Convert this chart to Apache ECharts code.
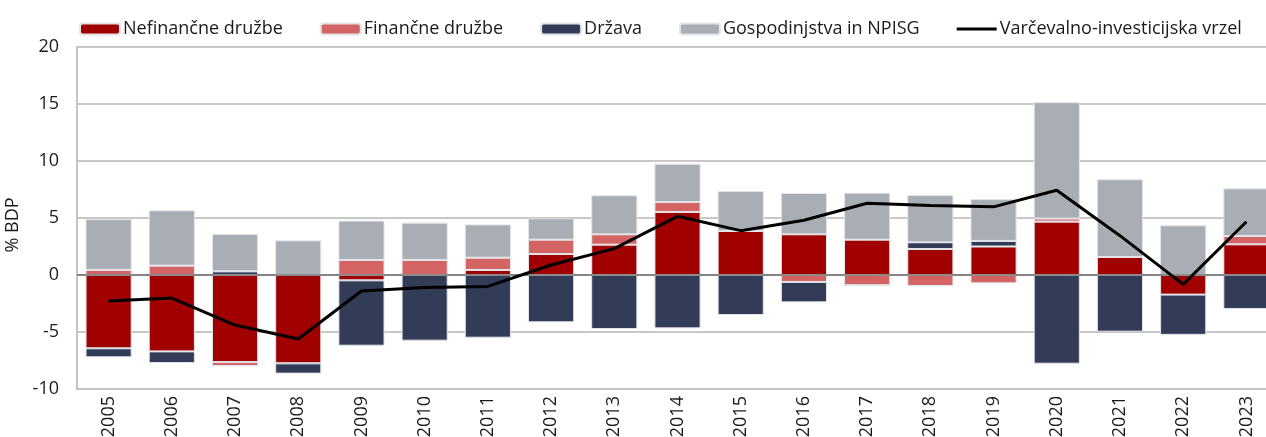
<!DOCTYPE html>
<html>
<head>
<meta charset="utf-8">
<script src="https://cdn.jsdelivr.net/npm/echarts@6/dist/echarts.min.js"></script>
<style>
  html, body { margin: 0; padding: 0; background: #fff; }
  #chart { width: 1266px; height: 437px; }
</style>
</head>
<body>
<div id="chart"></div>
<script>
var years = ['2005','2006','2007','2008','2009','2010','2011','2012','2013','2014',
             '2015','2016','2017','2018','2019','2020','2021','2022','2023'];

// % BDP
var nefinancne = [-6.43, -6.70, -7.63, -7.75, -0.47, 0, 0.44, 1.84, 2.66, 5.53, 3.86, 3.57, 3.10, 2.28, 2.50, 4.68, 1.58, -1.72, 2.69];
var financne   = [0.45, 0.82, -0.35, 0, 1.32, 1.32, 1.08, 1.26, 0.91, 0.87, 0, -0.61, -0.90, -0.96, -0.73, 0.27, 0, 0, 0.73];
var drzava     = [-0.79, -1.02, 0.32, -0.90, -5.73, -5.76, -5.50, -4.15, -4.74, -4.68, -3.51, -1.79, 0, 0.59, 0.49, -7.78, -4.97, -3.53, -2.98];
var gospodinjstva = [4.45, 4.85, 3.28, 3.04, 3.45, 3.27, 2.92, 1.87, 3.42, 3.36, 3.51, 3.62, 4.12, 4.15, 3.67, 10.21, 6.82, 4.36, 4.18];
var vrzel      = [-2.28, -2.02, -4.39, -5.61, -1.40, -1.10, -1.00, 0.88, 2.31, 5.15, 3.89, 4.80, 6.30, 6.10, 5.98, 7.43, 3.45, -0.82, 4.67];

var font = "'Open Sans', 'DejaVu Sans', sans-serif";
var chart = echarts.init(document.getElementById('chart'));

function barSeries(name, data, color) {
  return {
    name: name,
    type: 'bar',
    stack: 'sektorji',
    data: data,
    barCategoryGap: '27%',
    itemStyle: { color: color, borderColor: '#e2e4ea', borderWidth: 1 },
    emphasis: { disabled: true }
  };
}

var option = {
  animation: false,
  textStyle: { fontFamily: font },
  legend: {
    top: 15,
    left: 74,
    itemWidth: 40,
    itemHeight: 11,
    itemGap: 37,
    textStyle: { fontFamily: font, fontSize: 18, color: '#1a1a1a', padding: [0, 0, 0, -2] },
    data: [
      'Nefinančne družbe', 'Finančne družbe', 'Država', 'Gospodinjstva in NPISG',
      { name: 'Varčevalno-investicijska vrzel', icon: 'path://M0,0L40,0L40,3L0,3Z' }
    ]
  },
  grid: { left: 77, top: 47, width: 1201, height: 342, outerBoundsMode: 'none' },
  xAxis: {
    type: 'category',
    data: years,
    axisLine: { onZero: false, lineStyle: { color: '#c4c4c4', width: 2 } },
    axisTick: { show: false },
    axisLabel: { rotate: 90, fontSize: 18, color: '#1a1a1a', margin: 7, fontFamily: font }
  },
  yAxis: {
    type: 'value',
    min: -10,
    max: 20,
    interval: 5,
    name: '% BDP',
    nameLocation: 'middle',
    nameGap: 52,
    nameTextStyle: { fontSize: 18, color: '#1a1a1a', fontFamily: font, padding: [0, 14, 0, 0] },
    axisLine: { show: true, lineStyle: { color: '#c4c4c4', width: 2 } },
    axisTick: { show: false },
    axisLabel: { fontSize: 18, color: '#1a1a1a', margin: 18, fontFamily: font },
    splitLine: { lineStyle: { color: '#c8c8c8', width: 2 } }
  },
  series: [
    barSeries('Nefinančne družbe', nefinancne, '#a00000'),
    barSeries('Finančne družbe', financne, '#d46464'),
    barSeries('Država', drzava, '#333c56'),
    barSeries('Gospodinjstva in NPISG', gospodinjstva, '#a8aeb4'),
    {
      name: 'Varčevalno-investicijska vrzel',
      type: 'line',
      data: vrzel,
      symbol: 'none',
      lineStyle: { color: '#000', width: 3 },
      itemStyle: { color: '#000' },
      z: 5,
      markLine: {
        silent: true,
        symbol: 'none',
        label: { show: false },
        lineStyle: { color: '#6e6e6e', width: 1.5, type: 'solid' },
        data: [{ yAxis: 0 }]
      }
    }
  ]
};

chart.setOption(option);
</script>
</body>
</html>
